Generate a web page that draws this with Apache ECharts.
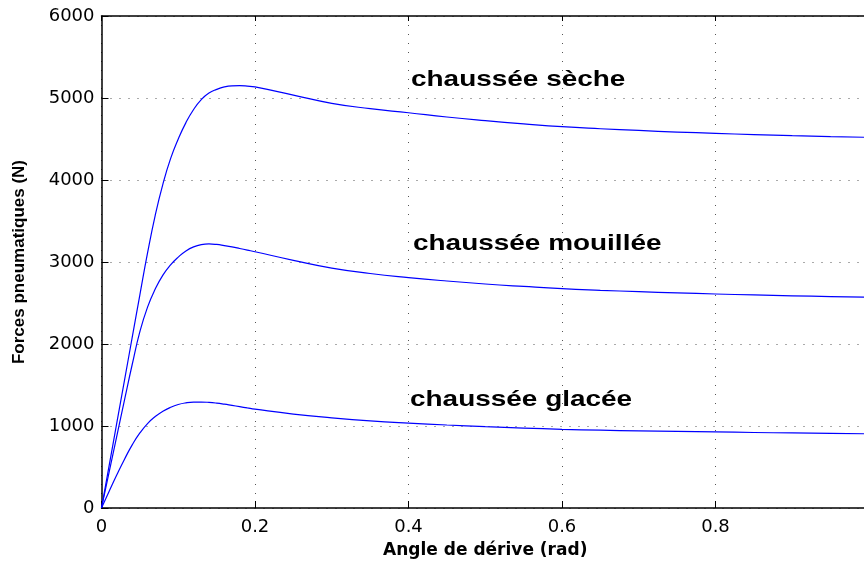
<!DOCTYPE html>
<html lang="fr">
<head>
  <meta charset="UTF-8">
  <title>Forces pneumatiques</title>
  <script src="https://cdn.jsdelivr.net/npm/echarts@6.0.0/dist/echarts.min.js"></script>
  <style>
    html, body { margin: 0; padding: 0; background: #fff; }
  </style>
</head>
<body>
  <div id="main" style="width: 864px; height: 563px;"></div>

  <script>
    // Angle de dérive (rad)
    const angle = [0, 0.01, 0.02, 0.03, 0.04, 0.05, 0.06, 0.07, 0.08, 0.09, 0.10,
      0.11, 0.12, 0.13, 0.14, 0.15, 0.16, 0.17, 0.18, 0.19, 0.20,
      0.25, 0.30, 0.35, 0.40, 0.45, 0.50, 0.55, 0.60, 0.65, 0.70,
      0.75, 0.80, 0.85, 0.90, 0.95, 1.00];

    // Forces (N)
    const seche = [0, 520, 1040, 1560, 2080, 2600, 3110, 3570, 3950, 4260, 4500,
      4700, 4860, 4980, 5060, 5105, 5135, 5148, 5150, 5145, 5135,
      5035, 4935, 4870, 4820, 4768, 4724, 4685, 4650, 4625, 4604,
      4585, 4569, 4554, 4541, 4530, 4520];

    const mouillee = [0, 440, 880, 1320, 1750, 2150, 2450, 2670, 2840, 2965, 3060,
      3135, 3185, 3212, 3220, 3214, 3200, 3184, 3165, 3145, 3125,
      3020, 2925, 2860, 2810, 2768, 2732, 2702, 2675, 2655, 2638,
      2623, 2610, 2598, 2588, 2578, 2570];

    const glacee = [0, 205, 405, 595, 770, 915, 1030, 1115, 1180, 1228, 1262,
      1282, 1291, 1292, 1288, 1279, 1266, 1251, 1236, 1220, 1205,
      1145, 1100, 1063, 1035, 1012, 992, 975, 960, 949, 940,
      934, 928, 921, 915, 910, 905];

    const labels = ['chaussée sèche', 'chaussée mouillée', 'chaussée glacée'];

    const myChart = echarts.init(document.getElementById('main'));

    const pairs = vals => angle.map((a, i) => [a, vals[i]]);

    const tickFont = { color: '#000', fontFamily: 'DejaVu Sans', fontSize: 18 };
    const gridLine = { show: true, lineStyle: { color: '#555', width: 1, type: [1, 8] } };

    function curve(name, vals) {
      return {
        name: name,
        type: 'line',
        data: pairs(vals),
        smooth: 0.5,
        symbol: 'none',
        lineStyle: { color: '#0000ff', width: 1.2 },
        animation: false
      };
    }

    const option = {
      backgroundColor: '#fff',
      grid: { left: 101.5, right: -5, top: 16, bottom: 55, outerBoundsMode: 'none', containLabel: false },
      xAxis: [{
        type: 'value',
        min: 0, max: 1, interval: 0.2,
        name: 'Angle de dérive (rad)',
        nameLocation: 'middle',
        nameGap: 34,
        nameTextStyle: { color: '#000', fontFamily: 'DejaVu Sans', fontWeight: 'bold', fontSize: 17 },
        axisLine: { show: true, lineStyle: { color: '#000', width: 1.5 } },
        axisTick: { show: true, inside: true, length: 7, lineStyle: { color: '#000' } },
        axisLabel: Object.assign({ margin: 10, showMaxLabel: true, hideOverlap: false }, tickFont),
        splitLine: gridLine
      }, {
        type: 'value',
        position: 'top',
        min: 0, max: 1, interval: 0.2,
        axisLine: { show: true, onZero: false, lineStyle: { color: '#000', width: 1.5 } },
        axisTick: { show: true, inside: true, length: 5, lineStyle: { color: '#000' } },
        axisLabel: { show: false },
        splitLine: { show: false }
      }],
      yAxis: {
        type: 'value',
        min: 0, max: 6000, interval: 1000,
        name: 'Forces pneumatiques (N)',
        nameLocation: 'middle',
        nameGap: 74,
        nameTextStyle: { color: '#000', fontFamily: 'Liberation Sans', fontWeight: 'bold', fontSize: 17 },
        axisLine: { show: true, lineStyle: { color: '#000', width: 1.5 } },
        axisTick: { show: true, inside: true, length: 7, lineStyle: { color: '#000' } },
        axisLabel: Object.assign({ margin: 7, formatter: v => String(v) }, tickFont),
        splitLine: gridLine
      },
      graphic: [
        { type: 'text', x: 411, y: 80, scaleX: 1.27, style: { text: labels[0], font: 'bold 22px "Liberation Sans"', fill: '#000', verticalAlign: 'middle' } },
        { type: 'text', x: 413, y: 244, scaleX: 1.27, style: { text: labels[1], font: 'bold 22px "Liberation Sans"', fill: '#000', verticalAlign: 'middle' } },
        { type: 'text', x: 410, y: 400, scaleX: 1.27, style: { text: labels[2], font: 'bold 22px "Liberation Sans"', fill: '#000', verticalAlign: 'middle' } }
      ],
      series: [
        curve(labels[0], seche),
        curve(labels[1], mouillee),
        curve(labels[2], glacee)
      ]
    };

    myChart.setOption(option);
  </script>
</body>
</html>
